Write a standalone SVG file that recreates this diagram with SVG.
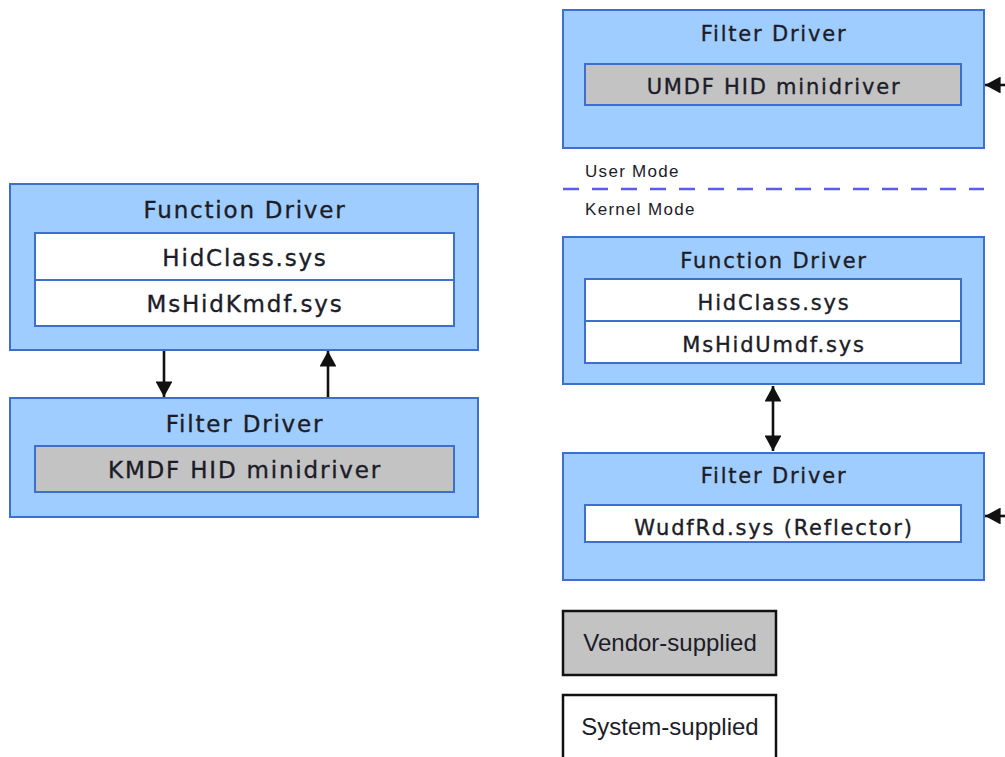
<svg xmlns="http://www.w3.org/2000/svg" width="1005" height="757" viewBox="0 0 1005 757">
<style>
.outer{fill:#9fcdff;stroke:#3f6fcc;stroke-width:2}
.sys{fill:#ffffff;stroke:#3f6fcc;stroke-width:2}
.ven{fill:#c3c3c3;stroke:#3f6fcc;stroke-width:2}
.t{font-family:"DejaVu Sans",Verdana,sans-serif;fill:#1c1c28;stroke:#1c1c28;stroke-width:0.35;text-anchor:middle}
.L{font-size:23px;letter-spacing:1.8px}
.R{font-size:21px;letter-spacing:1.8px}
.s{font-family:"Liberation Sans",Arial,sans-serif;font-size:17px;letter-spacing:1.3px;fill:#1c1c28}
.leg{font-family:"Liberation Sans",Arial,sans-serif;font-size:24px;fill:#1c1c28;text-anchor:middle}
.c{stroke:#111;stroke-width:2.6;fill:none}
</style>
<defs>
<marker id="ah" viewBox="0 0 10 10" refX="10" refY="5" markerWidth="6" markerHeight="6.5" markerUnits="strokeWidth" orient="auto-start-reverse" preserveAspectRatio="none">
<path d="M0,0 L10,5 L0,10 z" fill="#111"/>
</marker>
</defs>
<rect x="0" y="0" width="1005" height="757" fill="#ffffff"/>
<g id="left-function-driver">
<rect class="outer" x="10" y="184" width="468" height="166"/>
<text class="t L" x="245" y="218">Function Driver</text>
<rect class="sys" x="35" y="233" width="419" height="47"/>
<text class="t L" x="245" y="266">HidClass.sys</text>
<rect class="sys" x="35" y="280" width="419" height="46"/>
<text class="t L" x="245" y="312">MsHidKmdf.sys</text>
</g>
<g id="left-filter-driver">
<rect class="outer" x="10" y="398" width="468" height="119"/>
<text class="t L" x="245" y="432">Filter Driver</text>
<rect class="ven" x="35" y="446" width="419" height="46"/>
<text class="t L" x="245" y="478">KMDF HID minidriver</text>
</g>
<g id="right-filter-driver-top">
<rect class="outer" x="563" y="10" width="421" height="138"/>
<text class="t R" x="774" y="41">Filter Driver</text>
<rect class="ven" x="585" y="64" width="376" height="41"/>
<text class="t R" x="774" y="94">UMDF HID minidriver</text>
</g>
<g id="mode-boundary">
<text class="s" x="585" y="177">User Mode</text>
<line x1="563" y1="189" x2="984" y2="189" stroke="#5b5bf0" stroke-width="2.5" stroke-dasharray="16,13"/>
<text class="s" x="585" y="215">Kernel Mode</text>
</g>
<g id="right-function-driver">
<rect class="outer" x="563" y="237" width="421" height="147"/>
<text class="t R" x="774" y="268">Function Driver</text>
<rect class="sys" x="585" y="279" width="376" height="42"/>
<text class="t R" x="774" y="310">HidClass.sys</text>
<rect class="sys" x="585" y="321" width="376" height="42"/>
<text class="t R" x="774" y="352">MsHidUmdf.sys</text>
</g>
<g id="right-filter-driver-bottom">
<rect class="outer" x="563" y="453" width="421" height="127"/>
<text class="t R" x="774" y="483">Filter Driver</text>
<rect class="sys" x="585" y="505" width="376" height="37"/>
<text class="t R" x="774" y="535">WudfRd.sys (Reflector)</text>
</g>
<g id="legend-vendor">
<rect x="563" y="611" width="213" height="64" fill="#c3c3c3" stroke="#111" stroke-width="2.5"/>
<text class="leg" x="670" y="651">Vendor-supplied</text>
</g>
<g id="legend-system">
<rect x="563" y="695" width="213" height="70" fill="#ffffff" stroke="#111" stroke-width="2.5"/>
<text class="leg" x="670" y="735">System-supplied</text>
</g>
<g id="connectors">
<line class="c" x1="164" y1="351" x2="164" y2="397" marker-end="url(#ah)"/>
<line class="c" x1="328" y1="397" x2="328" y2="351" marker-end="url(#ah)"/>
<line class="c" x1="773" y1="386" x2="773" y2="451" marker-start="url(#ah)" marker-end="url(#ah)"/>
<line class="c" x1="1008" y1="85" x2="985" y2="85" marker-end="url(#ah)"/>
<line class="c" x1="1008" y1="516" x2="985" y2="516" marker-end="url(#ah)"/>
</g>
</svg>
